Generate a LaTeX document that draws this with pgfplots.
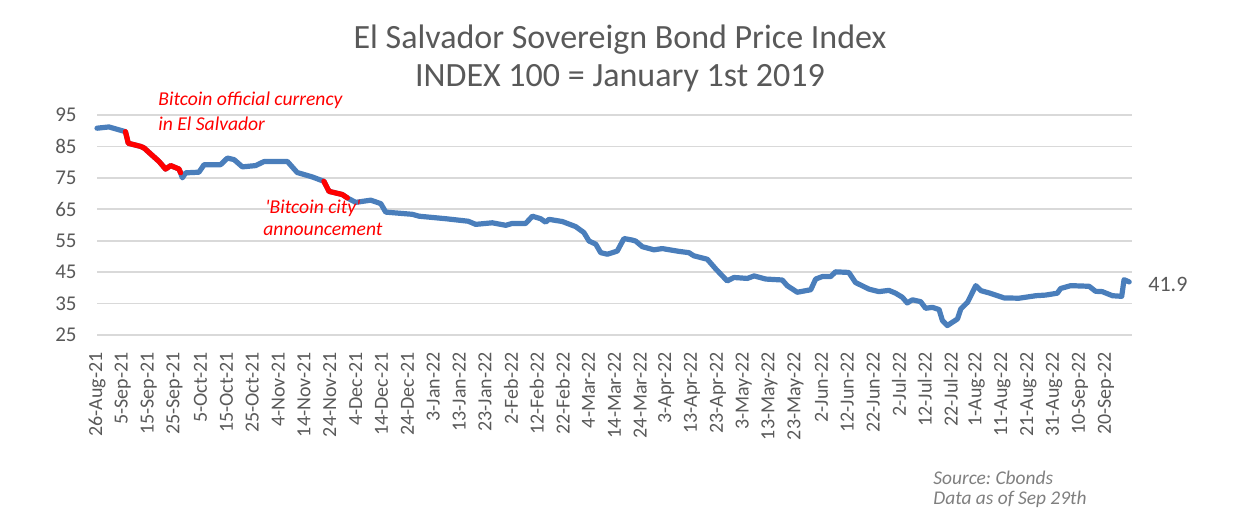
\documentclass[border=0pt]{standalone}
\usepackage{pgfplots}
\pgfplotsset{compat=1.18}
\usepackage{fontspec}
\setmainfont{Carlito}
\frenchspacing
\definecolor{lineblue}{HTML}{4A7EBB}
\definecolor{txtgray}{HTML}{595959}
\definecolor{srcgray}{HTML}{7F7F7F}
\definecolor{gridgray}{HTML}{D9D9D9}
\begin{document}
\begin{tikzpicture}
\path[use as bounding box] (0,0) rectangle (624pt,259.5pt);
\begin{axis}[
  at={(48.5pt,92pt)}, anchor=south west,
  scale only axis, width=517.4pt, height=110pt,
  xmin=0, xmax=400, ymin=25, ymax=95,
  axis line style={draw=none},
  major tick length=0pt,
  ymajorgrids, grid style={gridgray, line width=0.8pt},
  ytick={25,35,...,95},
  xtick={0,10,...,390},
  xticklabels={26-Aug-21,5-Sep-21,15-Sep-21,25-Sep-21,5-Oct-21,15-Oct-21,25-Oct-21,4-Nov-21,14-Nov-21,24-Nov-21,4-Dec-21,14-Dec-21,24-Dec-21,3-Jan-22,13-Jan-22,23-Jan-22,2-Feb-22,12-Feb-22,22-Feb-22,4-Mar-22,14-Mar-22,24-Mar-22,3-Apr-22,13-Apr-22,23-Apr-22,3-May-22,13-May-22,23-May-22,2-Jun-22,12-Jun-22,22-Jun-22,2-Jul-22,12-Jul-22,22-Jul-22,1-Aug-22,11-Aug-22,21-Aug-22,31-Aug-22,10-Sep-22,20-Sep-22},
  /pgf/number format/assume math mode=true,
  xticklabel style={rotate=90, anchor=east, inner sep=0pt, font=\fontsize{10}{11}\selectfont, text=txtgray},
  xticklabel shift=8.5pt,
  yticklabel style={anchor=east, inner sep=0pt, font=\fontsize{10.5}{12}\selectfont, text=txtgray},
  yticklabel shift=10pt,
  clip=false,
]
\addplot[lineblue, line width=2.6pt, line join=round, line cap=round] coordinates {
(0,90.8) (4.6,91.2) (11,89.7) (12.1,86.0) (16.9,85.0) (18.2,84.5) (24,80.2) (26.5,77.8) (28.5,78.9) (31.7,77.8) (32.3,76.6) (33,75.0) (34.3,76.6) (39.4,76.8) (41.4,79.2) (47.8,79.2) (50.4,81.3) (53,80.8) (56.2,78.5) (61.3,78.9) (64.6,80.2) (73.6,80.2) (77.4,76.7) (83.2,75.3) (87.7,73.9) (89.7,70.7) (94.8,69.7) (96.8,68.6) (100,67.2) (105.8,67.9) (109.7,66.8) (111.6,64.1) (121.9,63.4) (124.5,62.8) (134.8,62.0) (143.5,61.2) (146.4,60.2) (152.8,60.7) (158,59.9) (160.5,60.5) (165.7,60.5) (168.3,62.8) (171.5,62.0) (173.4,60.9) (174.7,61.8) (179.9,61.1) (185,59.5) (188.2,57.6) (190.2,54.9) (192.8,53.9) (194.7,51.2) (197.3,50.7) (201.1,51.7) (203.7,55.7) (206.9,55.2) (208.2,54.9) (210.8,53.1) (215.3,52.1) (218.5,52.5) (225,51.6) (228.8,51.2) (230.7,50.2) (235.9,49.1) (239.2,46.0) (243.6,42.2) (246.2,43.3) (251.4,43.0) (254,43.8) (258.5,42.8) (264.9,42.5) (266.8,40.7) (270.7,38.6) (275.9,39.4) (277.8,42.8) (280.4,43.6) (283.6,43.6) (285.5,45.1) (290.6,44.9) (293.2,41.7) (298.4,39.6) (302.2,38.8) (306.1,39.2) (308.7,38.3) (311.3,37.0) (313.2,35.2) (315.2,36.2) (318.4,35.6) (320.3,33.5) (322.9,33.8) (325.5,33.1) (326.8,29.6) (328.7,28.0) (332.6,30.1) (333.9,33.3) (336.5,35.4) (339.7,40.7) (341.7,39.1) (344.8,38.4) (350.6,36.8) (356.4,36.7) (362.9,37.5) (366.7,37.7) (371.2,38.3) (372.5,39.8) (376.4,40.7) (383.5,40.5) (386,38.9) (388.6,38.8) (392.5,37.5) (396.1,37.3) (397,42.6) (399,41.9)
};
\addplot[red, line width=2.6pt, line join=round, line cap=round] coordinates {
(11,89.7) (12.1,86.0) (16.9,85.0) (18.2,84.5) (24,80.2) (26.5,77.8) (28.5,78.9) (31.7,77.8) (32.3,76.6)
};
\addplot[red, line width=2.6pt, line join=round, line cap=round] coordinates {
(87.7,73.9) (89.7,70.7) (94.8,69.7) (96.8,68.6)
};
\end{axis}
\node[anchor=base, text=txtgray, font=\fontsize{17}{19}\selectfont] at (310pt,235pt) {El Salvador Sovereign Bond Price Index};
\node[anchor=base, text=txtgray, font=\fontsize{17}{19}\selectfont] at (310pt,216pt) {INDEX 100 = January 1st 2019};
\node[anchor=west, inner sep=0pt, text=red, font=\fontsize{9.8}{11}\selectfont\itshape] at (79pt,209.5pt) {Bitcoin official currency};
\node[anchor=west, inner sep=0pt, text=red, font=\fontsize{9.8}{11}\selectfont\itshape] at (79pt,197.5pt) {in El Salvador};
\node[anchor=west, inner sep=0pt, text=red, font=\fontsize{9.8}{11}\selectfont\itshape] at (132.5pt,155.5pt) {\textquotesingle Bitcoin city\textquotesingle};
\node[anchor=west, inner sep=0pt, text=red, font=\fontsize{9.8}{11}\selectfont\itshape] at (131.5pt,145pt) {announcement};
\node[anchor=west, inner sep=0pt, text=txtgray, font=\fontsize{11}{13}\selectfont] at (574pt,117.5pt) {41.9};
\node[anchor=west, inner sep=0pt, text=srcgray, font=\fontsize{9.7}{11}\selectfont\itshape] at (466.5pt,20.5pt) {Source: Cbonds};
\node[anchor=west, inner sep=0pt, text=srcgray, font=\fontsize{9.7}{11}\selectfont\itshape] at (466.5pt,10pt) {Data as of Sep 29th};
\end{tikzpicture}
\end{document}
